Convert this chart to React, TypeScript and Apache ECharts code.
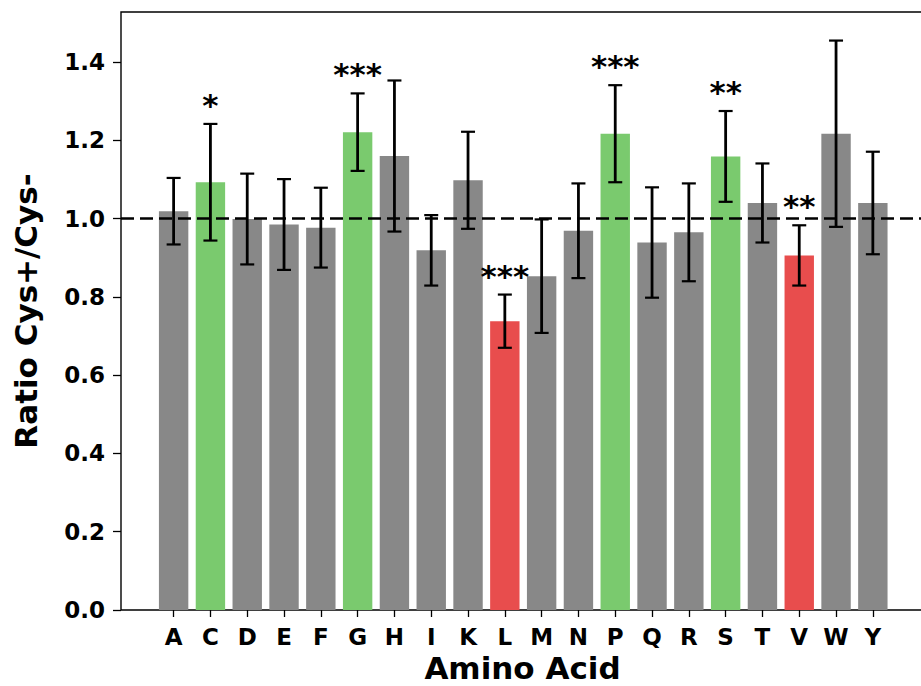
import React, { useEffect, useRef } from "react";
import * as echarts from "echarts";

// Amino acids on the x axis
const categories = ["A", "C", "D", "E", "F", "G", "H", "I", "K", "L", "M", "N", "P", "Q", "R", "S", "T", "V", "W", "Y"];
// Mean ratio Cys+/Cys- per amino acid
const ratios = [1.019, 1.093, 0.999, 0.985, 0.977, 1.221, 1.16, 0.919, 1.098, 0.738, 0.853, 0.969, 1.217, 0.939, 0.965, 1.159, 1.04, 0.906, 1.217, 1.04];
// Error bar half-widths
const errors = [0.085, 0.149, 0.116, 0.116, 0.102, 0.099, 0.193, 0.09, 0.124, 0.068, 0.145, 0.121, 0.124, 0.141, 0.125, 0.116, 0.101, 0.077, 0.238, 0.131];
// Significance marks
const significance = ["", "*", "", "", "", "***", "", "", "", "***", "", "", "***", "", "", "**", "", "**", "", ""];
// Y tick values
const yTicks = [0, 0.2, 0.4, 0.6, 0.8, 1.0, 1.2, 1.4];

const GRAY = "#888888";
const GREEN = "#7aca6e";
const RED = "#e84d4d";
const FONT = "DejaVu Sans";

function barColor(i: number): string {
  if (!significance[i]) return GRAY;
  return ratios[i] > 1 ? GREEN : RED;
}

export default function App() {
  const ref = useRef<HTMLDivElement>(null);

  useEffect(() => {
    document.body.style.margin = "0";
    if (!ref.current) return;
    const chart = echarts.init(ref.current, null, { renderer: "svg" });
    const xIdx = categories.map((_, i) => i);

    chart.setOption({
      animation: false,
      backgroundColor: "#ffffff",
      grid: {
        left: 121,
        right: -3,
        top: 12,
        bottom: 76,
        outerBoundsMode: "none",
        containLabel: false,
        show: true,
        borderColor: "#000",
        borderWidth: 1.4,
        backgroundColor: "transparent",
      },
      xAxis: {
        type: "value",
        min: -1.43,
        max: 20.39,
        name: "Amino Acid",
        nameLocation: "middle",
        nameGap: 42,
        nameTextStyle: { fontFamily: FONT, fontWeight: "bold", fontSize: 31, color: "#000" },
        axisLine: { show: false, onZero: false },
        splitLine: { show: false },
        axisTick: {
          show: true,
          customValues: xIdx,
          length: 7,
          lineStyle: { color: "#000", width: 1.3 },
        },
        axisLabel: {
          customValues: xIdx,
          formatter: (v: number) => categories[Math.round(v)] ?? "",
          fontFamily: FONT,
          fontWeight: "bold",
          fontSize: 23,
          color: "#000",
          margin: 15,
        },
      },
      yAxis: {
        type: "value",
        min: 0,
        max: 1.528,
        name: "Ratio Cys+/Cys-",
        nameLocation: "middle",
        nameGap: 80,
        nameRotate: 90,
        nameTextStyle: { fontFamily: FONT, fontWeight: "bold", fontSize: 31, color: "#000" },
        axisLine: { show: false, onZero: false },
        splitLine: { show: false },
        axisTick: {
          show: true,
          customValues: yTicks,
          length: 8,
          lineStyle: { color: "#000", width: 1.3 },
        },
        axisLabel: {
          customValues: yTicks,
          formatter: (v: number) => v.toFixed(1),
          fontFamily: FONT,
          fontWeight: "bold",
          fontSize: 23,
          color: "#000",
          margin: 16,
        },
      },
      series: [
        {
          type: "bar",
          barWidth: 29.4,
          data: ratios.map((v, i) => ({ value: [i, v], itemStyle: { color: barColor(i) } })),
          markLine: {
            silent: true,
            symbol: "none",
            label: { show: false },
            lineStyle: { color: "#000", width: 2.6, type: [13, 6] },
            data: [{ yAxis: 1 }],
            z: 5,
          },
        },
        {
          type: "custom",
          clip: false,
          z: 10,
          data: ratios.map((v, i) => [i, v, errors[i]]),
          renderItem: (params: any, api: any) => {
            const i = api.value(0);
            const v = api.value(1);
            const e = api.value(2);
            const top = api.coord([i, v + e]);
            const bot = api.coord([i, v - e]);
            const cap = 7;
            const stem = { stroke: "#000", lineWidth: 2.8 };
            const capStyle = { stroke: "#000", lineWidth: 2.2 };
            const children: any[] = [
              { type: "line", shape: { x1: top[0], y1: top[1], x2: bot[0], y2: bot[1] }, style: stem },
              { type: "line", shape: { x1: top[0] - cap, y1: top[1], x2: top[0] + cap, y2: top[1] }, style: capStyle },
              { type: "line", shape: { x1: bot[0] - cap, y1: bot[1], x2: bot[0] + cap, y2: bot[1] }, style: capStyle },
            ];
            const mark = significance[params.dataIndex];
            if (mark) {
              children.push({
                type: "text",
                x: top[0],
                y: top[1] - 19,
                style: {
                  text: mark,
                  fill: "#000",
                  fontFamily: FONT,
                  fontWeight: "bold",
                  fontSize: 31,
                  align: "center",
                  verticalAlign: "middle",
                },
              });
            }
            return { type: "group", children };
          },
        },
      ],
    });

    return () => chart.dispose();
  }, []);

  return <div ref={ref} style={{ width: 921, height: 686 }} />;
}
